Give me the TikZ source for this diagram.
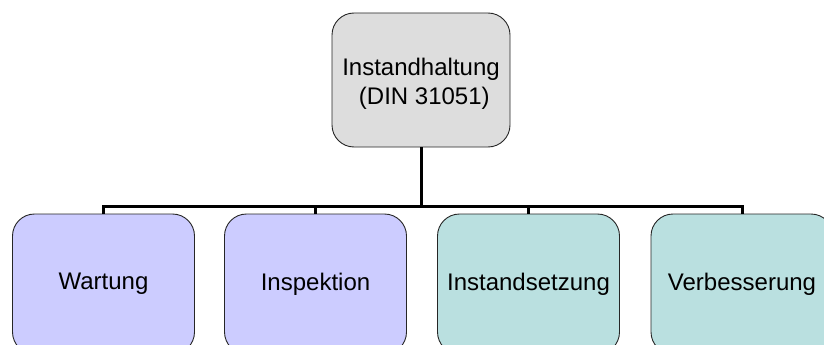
\documentclass[tikz,border=0pt]{standalone}
\usepackage{fontspec}
\setmainfont{Liberation Sans}
\begin{document}
\begin{tikzpicture}[x=1pt,y=1pt,
  box/.style={draw=black!85, line width=0.9pt, rounded corners=22pt, minimum width=182pt, inner sep=0pt,
    font=\fontsize{24}{29}\selectfont, align=center, text=black},
  topbox/.style={box, fill=gray!27, minimum width=178pt, minimum height=134pt},
  bluebox/.style={box, fill={rgb,255:red,204;green,204;blue,255}, minimum height=140pt},
  tealbox/.style={box, fill={rgb,255:red,186;green,224;blue,224}, minimum height=140pt},
  conn/.style={line width=3pt, black}]
\useasboundingbox (0,0) rectangle (824,-345);
\clip (0,0) rectangle (824,-345);
\node[topbox] (top) at (421,-80) {\raisebox{-4pt}[\height][\depth]{\begin{tabular}{@{}c@{}}Instandhaltung\\ \ (DIN 31051)\end{tabular}}};
\node[bluebox] (w) at (103.5,-284) {Wartung};
\node[bluebox] (i) at (315.5,-284) {Inspektion};
\node[tealbox] (s) at (528.5,-284) {Instandsetzung};
\node[tealbox] (v) at (742,-284) {Verbesserung};
\coordinate (bus) at (421,-206);
\draw[conn] (top.south) -- (bus);
\draw[conn] (bus) -| (w.north);
\draw[conn] (bus) -| (i.north);
\draw[conn] (bus) -| (s.north);
\draw[conn] (bus) -| (v.north);
\end{tikzpicture}
\end{document}
